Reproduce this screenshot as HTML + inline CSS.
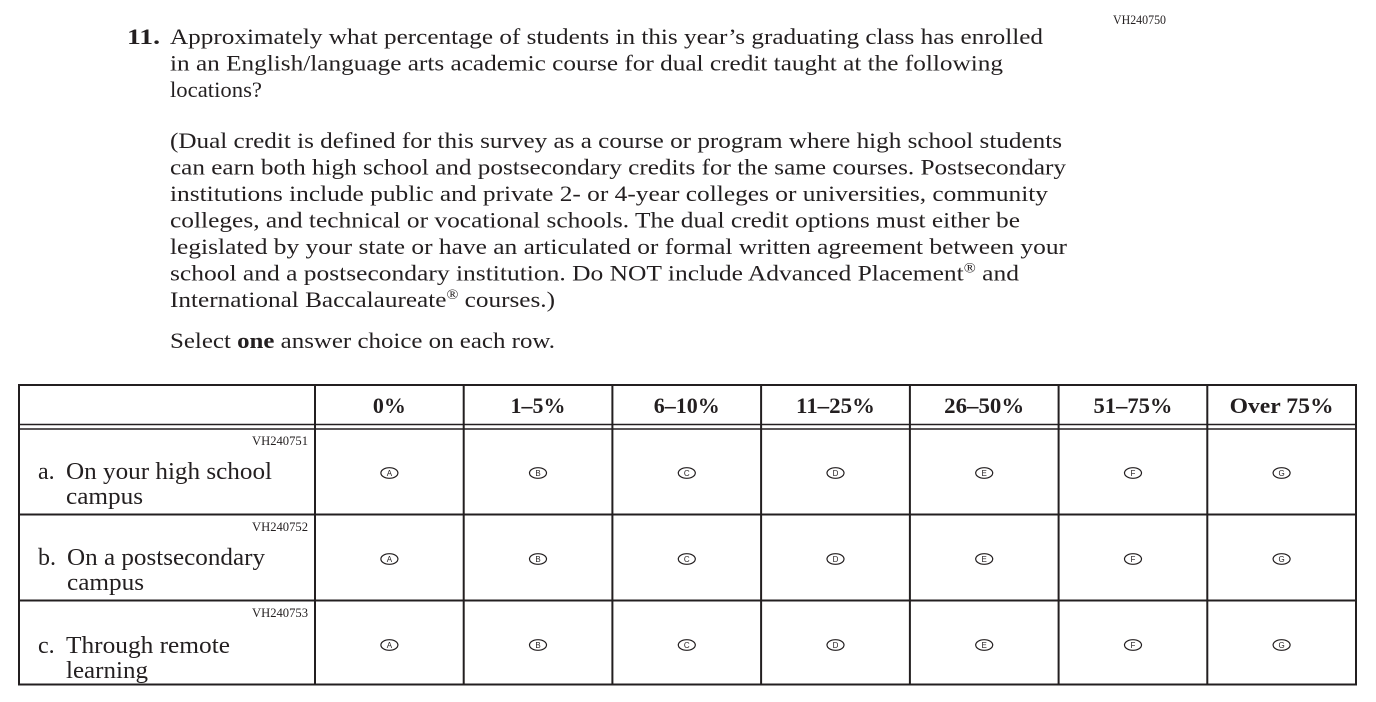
<!DOCTYPE html>
<html>
<head>
<meta charset="utf-8">
<style>
  html, body { margin:0; padding:0; background:#fff; }
  svg { display:block; }
  text { font-family: "Liberation Serif", serif; fill:#231f20; }
  .t { font-size:22.5px; }
  .r { font-size:24px; }
  .h { font-size:22px; font-weight:bold; }
  .vh { font-size:12.5px; }
  .c { font-family:"Liberation Sans", sans-serif; font-size:8px; }
</style>
</head>
<body>
<svg width="1376" height="702" viewBox="0 0 1376 702" xmlns="http://www.w3.org/2000/svg">
  <rect width="1376" height="702" fill="#fff"/>

  <text class="vh" x="1113" y="24" textLength="53" lengthAdjust="spacingAndGlyphs">VH240750</text>

  <text class="t" x="127" y="44" font-weight="bold" textLength="33" lengthAdjust="spacingAndGlyphs">11.</text>
  <text class="t" x="170" y="44" textLength="873" lengthAdjust="spacingAndGlyphs">Approximately what percentage of students in this year’s graduating class has enrolled</text>
  <text class="t" x="170" y="70.5" textLength="833" lengthAdjust="spacingAndGlyphs">in an English/language arts academic course for dual credit taught at the following</text>
  <text class="t" x="170" y="97" textLength="92" lengthAdjust="spacingAndGlyphs">locations?</text>

  <text class="t" x="170" y="148" textLength="892" lengthAdjust="spacingAndGlyphs">(Dual credit is defined for this survey as a course or program where high school students</text>
  <text class="t" x="170" y="174.5" textLength="896" lengthAdjust="spacingAndGlyphs">can earn both high school and postsecondary credits for the same courses. Postsecondary</text>
  <text class="t" x="170" y="201" textLength="878" lengthAdjust="spacingAndGlyphs">institutions include public and private 2- or 4-year colleges or universities, community</text>
  <text class="t" x="170" y="227.5" textLength="850" lengthAdjust="spacingAndGlyphs">colleges, and technical or vocational schools. The dual credit options must either be</text>
  <text class="t" x="170" y="254" textLength="897" lengthAdjust="spacingAndGlyphs">legislated by your state or have an articulated or formal written agreement between your</text>
  <text class="t" x="170" y="280.5" textLength="849" lengthAdjust="spacingAndGlyphs">school and a postsecondary institution. Do NOT include Advanced Placement<tspan font-size="14" dy="-8">®</tspan><tspan dy="8"> and</tspan></text>
  <text class="t" x="170" y="307" textLength="385" lengthAdjust="spacingAndGlyphs">International Baccalaureate<tspan font-size="14" dy="-8">®</tspan><tspan dy="8"> courses.)</tspan></text>

  <text class="t" x="170" y="348" textLength="385" lengthAdjust="spacingAndGlyphs">Select <tspan font-weight="bold">one</tspan> answer choice on each row.</text>

  <g stroke="#231f20" fill="none">
    <rect x="19" y="385" width="1337" height="299.5" stroke-width="2"/>
    <line x1="19" y1="424.5" x2="1356" y2="424.5" stroke-width="1.6"/>
    <line x1="19" y1="429" x2="1356" y2="429" stroke-width="1.6"/>
    <line x1="19" y1="514.5" x2="1356" y2="514.5" stroke-width="2"/>
    <line x1="19" y1="600.5" x2="1356" y2="600.5" stroke-width="2"/>
    <line x1="315" y1="385" x2="315" y2="685" stroke-width="2"/>
    <line x1="463.7" y1="385" x2="463.7" y2="685" stroke-width="2"/>
    <line x1="612.4" y1="385" x2="612.4" y2="685" stroke-width="2"/>
    <line x1="761.1" y1="385" x2="761.1" y2="685" stroke-width="2"/>
    <line x1="909.9" y1="385" x2="909.9" y2="685" stroke-width="2"/>
    <line x1="1058.6" y1="385" x2="1058.6" y2="685" stroke-width="2"/>
    <line x1="1207.3" y1="385" x2="1207.3" y2="685" stroke-width="2"/>
  </g>

  <g text-anchor="middle">
    <text class="h" x="389.4" y="413" textLength="33" lengthAdjust="spacingAndGlyphs">0%</text>
    <text class="h" x="538" y="413" textLength="55" lengthAdjust="spacingAndGlyphs">1–5%</text>
    <text class="h" x="686.8" y="413" textLength="66" lengthAdjust="spacingAndGlyphs">6–10%</text>
    <text class="h" x="835.5" y="413" textLength="79" lengthAdjust="spacingAndGlyphs">11–25%</text>
    <text class="h" x="984.2" y="413" textLength="80" lengthAdjust="spacingAndGlyphs">26–50%</text>
    <text class="h" x="1133" y="413" textLength="79" lengthAdjust="spacingAndGlyphs">51–75%</text>
    <text class="h" x="1281.6" y="413" textLength="104" lengthAdjust="spacingAndGlyphs">Over 75%</text>
  </g>

  <text class="vh" x="308" y="445" text-anchor="end" textLength="56" lengthAdjust="spacingAndGlyphs">VH240751</text>
  <text class="r" x="38" y="479">a.</text>
  <text class="r" x="66" y="479" textLength="206" lengthAdjust="spacingAndGlyphs">On your high school</text>
  <text class="r" x="66" y="504" textLength="77" lengthAdjust="spacingAndGlyphs">campus</text>

  <text class="vh" x="308" y="531" text-anchor="end" textLength="56" lengthAdjust="spacingAndGlyphs">VH240752</text>
  <text class="r" x="38" y="565">b.</text>
  <text class="r" x="67" y="565" textLength="198" lengthAdjust="spacingAndGlyphs">On a postsecondary</text>
  <text class="r" x="67" y="590" textLength="77" lengthAdjust="spacingAndGlyphs">campus</text>

  <text class="vh" x="308" y="617" text-anchor="end" textLength="56" lengthAdjust="spacingAndGlyphs">VH240753</text>
  <text class="r" x="38" y="653">c.</text>
  <text class="r" x="66" y="653" textLength="164" lengthAdjust="spacingAndGlyphs">Through remote</text>
  <text class="r" x="66" y="678" textLength="82" lengthAdjust="spacingAndGlyphs">learning</text>

  <g fill="none" stroke="#231f20" stroke-width="1.2">
    <ellipse cx="389.4" cy="473" rx="8.5" ry="5.3"/>
    <ellipse cx="538" cy="473" rx="8.5" ry="5.3"/>
    <ellipse cx="686.8" cy="473" rx="8.5" ry="5.3"/>
    <ellipse cx="835.5" cy="473" rx="8.5" ry="5.3"/>
    <ellipse cx="984.2" cy="473" rx="8.5" ry="5.3"/>
    <ellipse cx="1133" cy="473" rx="8.5" ry="5.3"/>
    <ellipse cx="1281.6" cy="473" rx="8.5" ry="5.3"/>
    <ellipse cx="389.4" cy="559" rx="8.5" ry="5.3"/>
    <ellipse cx="538" cy="559" rx="8.5" ry="5.3"/>
    <ellipse cx="686.8" cy="559" rx="8.5" ry="5.3"/>
    <ellipse cx="835.5" cy="559" rx="8.5" ry="5.3"/>
    <ellipse cx="984.2" cy="559" rx="8.5" ry="5.3"/>
    <ellipse cx="1133" cy="559" rx="8.5" ry="5.3"/>
    <ellipse cx="1281.6" cy="559" rx="8.5" ry="5.3"/>
    <ellipse cx="389.4" cy="645" rx="8.5" ry="5.3"/>
    <ellipse cx="538" cy="645" rx="8.5" ry="5.3"/>
    <ellipse cx="686.8" cy="645" rx="8.5" ry="5.3"/>
    <ellipse cx="835.5" cy="645" rx="8.5" ry="5.3"/>
    <ellipse cx="984.2" cy="645" rx="8.5" ry="5.3"/>
    <ellipse cx="1133" cy="645" rx="8.5" ry="5.3"/>
    <ellipse cx="1281.6" cy="645" rx="8.5" ry="5.3"/>
  </g>
  <g text-anchor="middle">
    <text class="c" x="389.4" y="476">A</text>
    <text class="c" x="538" y="476">B</text>
    <text class="c" x="686.8" y="476">C</text>
    <text class="c" x="835.5" y="476">D</text>
    <text class="c" x="984.2" y="476">E</text>
    <text class="c" x="1133" y="476">F</text>
    <text class="c" x="1281.6" y="476">G</text>
    <text class="c" x="389.4" y="562">A</text>
    <text class="c" x="538" y="562">B</text>
    <text class="c" x="686.8" y="562">C</text>
    <text class="c" x="835.5" y="562">D</text>
    <text class="c" x="984.2" y="562">E</text>
    <text class="c" x="1133" y="562">F</text>
    <text class="c" x="1281.6" y="562">G</text>
    <text class="c" x="389.4" y="648">A</text>
    <text class="c" x="538" y="648">B</text>
    <text class="c" x="686.8" y="648">C</text>
    <text class="c" x="835.5" y="648">D</text>
    <text class="c" x="984.2" y="648">E</text>
    <text class="c" x="1133" y="648">F</text>
    <text class="c" x="1281.6" y="648">G</text>
  </g>
</svg>
</body>
</html>
